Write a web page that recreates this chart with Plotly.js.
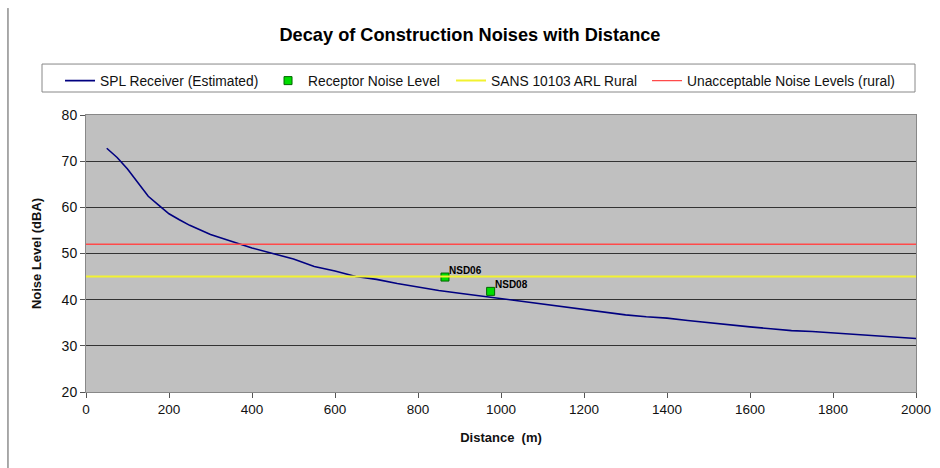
<!DOCTYPE html>
<html>
<head>
<meta charset="utf-8">
<script src="https://cdn.plot.ly/plotly-3.0.1.min.js"></script>
<style>html,body{margin:0;padding:0;background:#fff;}#chart{width:940px;height:468px;}</style>
</head>
<body>
<div id="chart"></div>
<script>
// Data
const distance = [50,75,100,125,150,175,200,225,250,300,350,400,450,500,550,600,650,700,750,800,850,900,950,1000,
  1050,1100,1150,1200,1250,1300,1350,1400,1450,1500,1550,1600,1650,1700,1750,1800,1850,1900,1950,2000];
const splReceiver = [72.8,70.8,68.3,65.3,62.4,60.5,58.6,57.3,56.1,54.1,52.6,51.2,50.0,48.8,47.2,46.2,45.0,44.4,43.5,42.7,42.0,41.4,40.8,40.2,
  39.6,39.1,38.5,37.9,37.3,36.7,36.3,36.0,35.5,35.0,34.5,34.1,33.7,33.3,33.1,32.8,32.5,32.2,31.9,31.6];
const receptorNames = ["NSD06","NSD08"];
const receptorDistance = [865,975];
const receptorLevel = [44.9,41.8];
const arlRange = [0,2000];
const arlRural = [45,45];
const unacceptableRange = [0,2000];
const unacceptableRural = [52,52];
const xTicks = [0,200,400,600,800,1000,1200,1400,1600,1800,2000];
const yTicks = [20,30,40,50,60,70,80];

const font = "Liberation Sans, Arial, sans-serif";

const traces = [
  {x: distance, y: splReceiver, name: "SPL Receiver (Estimated)", mode: "lines",
   line: {color: "#000080", width: 1.6}, legendwidth: 163},
  {x: receptorDistance, y: receptorLevel, name: "Receptor Noise Level", mode: "markers",
   marker: {symbol: "square", size: 8, color: "#00dd00", line: {color: "#006600", width: 1}}, legendwidth: 138},
  {x: arlRange, y: arlRural, name: "SANS 10103 ARL Rural", mode: "lines",
   line: {color: "#f2f230", width: 2}, legendwidth: 151},
  {x: unacceptableRange, y: unacceptableRural, name: "Unacceptable Noise Levels (rural)", mode: "lines",
   line: {color: "#ff4a4a", width: 1.3}, legendwidth: 212}
];

const annotations = receptorNames.map((n, i) => ({
  x: receptorDistance[i], y: receptorLevel[i], xref: "x", yref: "y",
  text: "<b>" + n + "</b>", showarrow: false, xanchor: "left", yanchor: "bottom",
  xshift: 2, yshift: -1, font: {family: font, size: 10, color: "#000"}
}));

const layout = {
  width: 940, height: 468,
  margin: {l: 86, r: 24, t: 115, b: 76},
  paper_bgcolor: "#ffffff",
  plot_bgcolor: "#c0c0c0",
  font: {family: font, size: 13, color: "#111"},
  title: {text: "<b>Decay of Construction Noises with Distance</b>", x: 0.5, xanchor: "center",
          y: 0.925, yanchor: "middle", font: {family: font, size: 18.2, color: "#000"}},
  showlegend: true,
  legend: {orientation: "h", x: -0.0313, xanchor: "left", y: 1.18, yanchor: "top",
           borderwidth: 0, bgcolor: "rgba(0,0,0,0)",
           font: {family: font, size: 13.8, color: "#111"}, itemwidth: 30,
           traceorder: "normal"},
  xaxis: {range: [0, 2000], tickvals: xTicks, ticktext: xTicks.map(String),
          ticks: "outside", ticklen: 5, tickcolor: "#555", showgrid: false, zeroline: false,
          showline: true, linecolor: "#888", linewidth: 1, mirror: true,
          tickfont: {family: font, size: 13.5, color: "#111"},
          title: {text: "<b>Distance  (m)</b>", font: {family: font, size: 13, color: "#111"}, standoff: 16}},
  yaxis: {range: [20, 80], tickvals: yTicks, ticktext: yTicks.map(String),
          ticks: "outside", ticklen: 5, tickcolor: "#555", showgrid: true, gridcolor: "#333", gridwidth: 1,
          zeroline: false, showline: true, linecolor: "#888", linewidth: 1, mirror: true,
          tickfont: {family: font, size: 14, color: "#111"},
          title: {text: "<b>Noise Level (dBA)</b>", font: {family: font, size: 13, color: "#111"}, standoff: 17}},
  annotations: annotations,
  shapes: [
    {type: "line", xref: "paper", yref: "paper", x0: -0.094, x1: -0.094, y0: 1.386, y1: -0.28,
     line: {color: "#555", width: 1}},
    {type: "rect", xref: "paper", yref: "paper", x0: -0.053, x1: 0.9988, y0: 1.083, y1: 1.184,
     line: {color: "#888", width: 1}, fillcolor: "rgba(0,0,0,0)", layer: "above"}
  ]
};

Plotly.newPlot("chart", traces, layout, {displayModeBar: false, staticPlot: true});
</script>
</body>
</html>
